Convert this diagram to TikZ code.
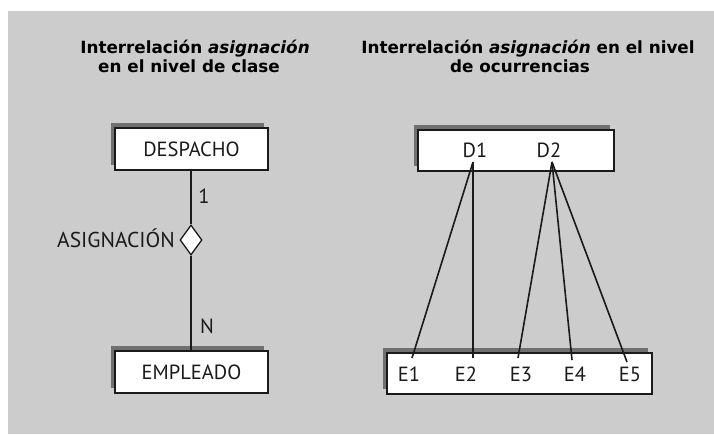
\documentclass[tikz,border=0pt]{standalone}
\usepackage{fontspec}
\setmainfont{PT Sans}
\newfontfamily\titlefont{DejaVu Sans}
\usetikzlibrary{shapes.geometric,shadows}
\definecolor{bggray}{HTML}{CCCCCC}
\definecolor{shgray}{HTML}{707070}
\definecolor{ink}{HTML}{1A1A1A}
\begin{document}
\begin{tikzpicture}[x=1pt,y=-1pt,
  entbox/.style={draw=ink, fill=white, line width=1.3pt, inner sep=0pt,
    font=\fontsize{20.5}{24}\selectfont, text=ink,
    drop shadow={shadow xshift=-4pt, shadow yshift=5pt, fill=shgray, opacity=1}},
  lbl/.style={font=\fontsize{20.5}{24}\selectfont, text=ink, inner sep=0pt},
  ttl/.style={font=\titlefont\fontsize{16.8}{19}\selectfont\bfseries, text=black, inner sep=0pt, anchor=base},
  conn/.style={draw=ink, line width=1.6pt},
  rel/.style={diamond, draw=ink, fill=white, line width=1.3pt, minimum width=22pt, minimum height=30pt, inner sep=0pt}]
\useasboundingbox (0,0) rectangle (714,434);
\fill[bggray] (8,11) rectangle (714,434);

% titles
\node[ttl] (t1a) at (195,53) {Interrelación \textit{asignación}};
\node[ttl] (t1b) at (189,72) {en el nivel de clase};
\node[ttl] (t2a) at (528,53) {Interrelación \textit{asignación} en el nivel};
\node[ttl] (t2b) at (520,72) {de ocurrencias};

% class level
\node[entbox, minimum width=153pt, minimum height=42pt] (desp) at (191.5,149) {DESPACHO};
\node[entbox, minimum width=153pt, minimum height=42pt] (empl) at (191.5,372) {EMPLEADO};
\node[rel] (asig) at (191,240) {};
\node[lbl, anchor=base east, font=\fontsize{21.5}{24}\selectfont] (asiglbl) at (175,247) {ASIGNACIÓN};
\draw[conn] (desp.south -| asig.north) -- (asig.north);
\draw[conn] (asig.south) -- (empl.north -| asig.south);
\node[lbl, anchor=base] (one) at (204,203) {1};
\node[lbl, anchor=base] (nn) at (207,333) {N};

% occurrence level
\node[entbox, minimum width=196pt, minimum height=41pt] (dbox) at (516,150.5) {};
\node[entbox, minimum width=265pt, minimum height=41pt] (ebox) at (519.5,373.5) {};
\node[lbl] (d1) at (475,150.5) {D1};
\node[lbl] (d2) at (549,150.5) {D2};
\node[lbl] (e1) at (409,374) {E1};
\node[lbl] (e2) at (466,374) {E2};
\node[lbl] (e3) at (521,374) {E3};
\node[lbl] (e4) at (575,374) {E4};
\node[lbl] (e5) at (630,374) {E5};
\coordinate (pd1) at (473,162);
\coordinate (pd2) at (552,162);
\coordinate (pe1) at (412,358);
\coordinate (pe2) at (473,358);
\coordinate (pe3) at (518,358);
\coordinate (pe4) at (572,360);
\coordinate (pe5) at (627,362);
\draw[conn] (pd1) -- (pe1);
\draw[conn] (pd1) -- (pe2);
\draw[conn] (pd2) -- (pe3);
\draw[conn] (pd2) -- (pe4);
\draw[conn] (pd2) -- (pe5);
\end{tikzpicture}
\end{document}
